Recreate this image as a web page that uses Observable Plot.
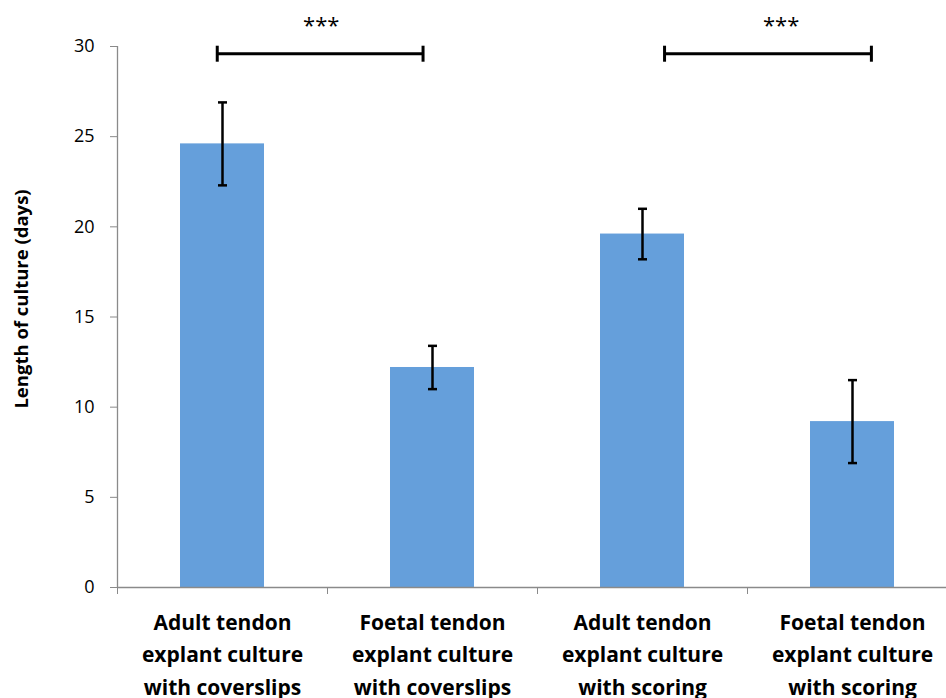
<!DOCTYPE html>
<html><head><meta charset="utf-8">
<script src="https://cdn.jsdelivr.net/npm/d3@7"></script>
<script src="https://cdn.jsdelivr.net/npm/@observablehq/plot@0.6"></script>
<style>body{margin:0;background:#fff} svg{overflow:visible}</style>
</head><body><div id="chart"></div>
<script>
const categories = [
  "Adult tendon\nexplant culture\nwith coverslips",
  "Foetal tendon\nexplant culture\nwith coverslips",
  "Adult tendon\nexplant culture\nwith scoring",
  "Foetal tendon\nexplant culture\nwith scoring"
];
const means = [24.6, 12.2, 19.6, 9.2];
const errors = [2.3, 1.2, 1.4, 2.3];
const yTicks = [0, 5, 10, 15, 20, 25, 30];
const bracketStart = [-0.025, 2.105];
const bracketEnd = [0.955, 3.09];
const bracketY = [29.6, 29.6];
const starX = [0.47, 2.66];
const starLabels = ["***", "***"];
const yLabel = "Length of culture (days)";

const bars = means.map((v, i) => ({i, v, lo: v - errors[i], hi: v + errors[i], label: categories[i]}));
const brackets = bracketStart.map((s, k) => ({s, e: bracketEnd[k], y: bracketY[k], sx: starX[k], t: starLabels[k]}));
const bracketEnds = brackets.flatMap(b => [{x: b.s, y: b.y}, {x: b.e, y: b.y}]);
const boundaries = d3.range(-0.5, categories.length, 1);

const hLine = {draw(ctx, size) { const r = Math.sqrt(size / Math.PI); ctx.moveTo(-r, 0); ctx.lineTo(r, 0); }};
const vLine = {draw(ctx, size) { const r = Math.sqrt(size / Math.PI); ctx.moveTo(0, -r); ctx.lineTo(0, r); }};

const axisColor = "#8a8a8a";
const font = "'Open Sans', 'Noto Sans', sans-serif";

const chart = Plot.plot({
  width: 946, height: 698,
  marginLeft: 117, marginRight: -11, marginTop: 46, marginBottom: 111,
  style: {fontFamily: font, background: "white", color: "black"},
  x: {domain: [-0.5, 3.5], axis: null},
  y: {domain: [0, 30], axis: null},
  marks: [
    Plot.rectY(bars, {x1: d => d.i - 0.2, x2: d => d.i + 0.2, y: "v", fill: "#659fdb"}),
    Plot.ruleX(bars, {x: "i", y1: "lo", y2: "hi", stroke: "black", strokeWidth: 2.5}),
    Plot.dot(bars, {x: "i", y: "lo", symbol: hLine, r: 4.5, stroke: "black", fill: "none", strokeWidth: 2.5}),
    Plot.dot(bars, {x: "i", y: "hi", symbol: hLine, r: 4.5, stroke: "black", fill: "none", strokeWidth: 2.5}),
    Plot.ruleX([-0.5], {stroke: axisColor, strokeWidth: 1.3}),
    Plot.ruleY([0], {stroke: axisColor, strokeWidth: 1.3}),
    Plot.axisY(yTicks, {anchor: "left", tickSize: 7, tickPadding: 16, stroke: axisColor, fill: "black", fontSize: 18, label: null}),
    Plot.axisX(boundaries, {anchor: "bottom", tickSize: 7, stroke: axisColor, fill: "none", label: null}),
    Plot.text(bars, {x: "i", y: 0, text: "label", lineAnchor: "top", dy: 19, fontSize: 21, fontWeight: "bold", lineHeight: 1.55, fill: "black"}),
    Plot.text([yLabel], {frameAnchor: "left", textAnchor: "middle", rotate: -90, dx: -95, dy: -18, fontSize: 18.5, fontWeight: "bold", fill: "black"}),
    Plot.ruleY(brackets, {x1: "s", x2: "e", y: "y", stroke: "black", strokeWidth: 3}),
    Plot.dot(bracketEnds, {x: "x", y: "y", symbol: vLine, r: 8, stroke: "black", fill: "none", strokeWidth: 3}),
    Plot.text(brackets, {x: "sx", y: "y", text: "t", dy: -28, fontSize: 22, fill: "black"})
  ]
});
document.getElementById("chart").appendChild(chart);
</script>
</body></html>
